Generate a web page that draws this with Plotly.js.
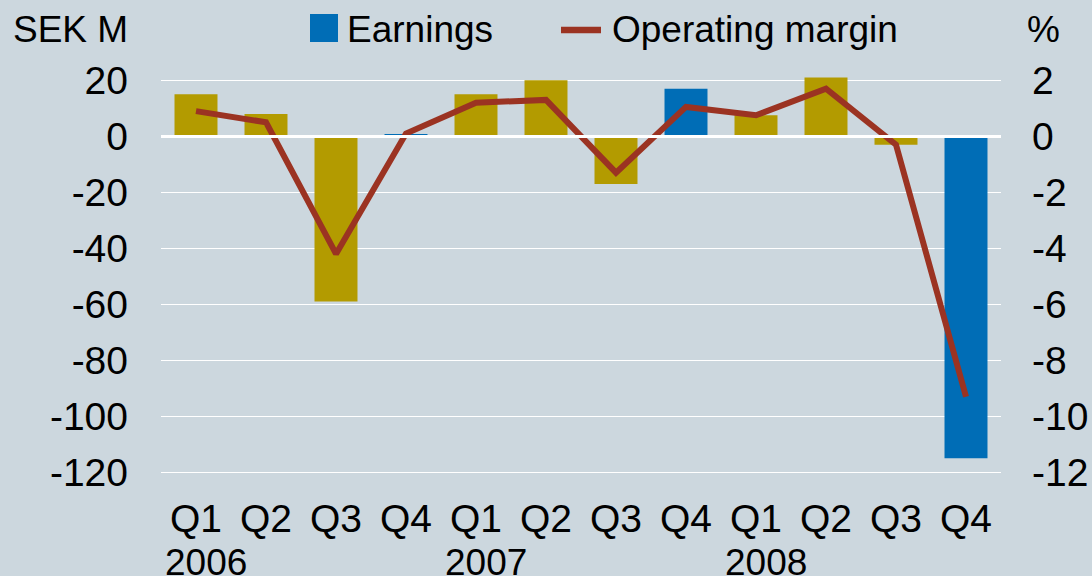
<!DOCTYPE html>
<html>
<head>
<meta charset="utf-8">
<script src="https://cdn.plot.ly/plotly-3.0.1.min.js"></script>
<style>
  html, body { margin: 0; padding: 0; background: #ccd7de; }
  #chart { width: 1092px; height: 576px; }
</style>
</head>
<body>
<div id="chart"></div>
<script>
// ---- data ----
const periods = ['Q1 2006','Q2 2006','Q3 2006','Q4 2006',
                 'Q1 2007','Q2 2007','Q3 2007','Q4 2007',
                 'Q1 2008','Q2 2008','Q3 2008','Q4 2008'];
const quarterLabels = ['Q1','Q2','Q3','Q4','Q1','Q2','Q3','Q4','Q1','Q2','Q3','Q4'];
const yearLabels = ['2006','2007','2008'];
const yearStartPeriods = ['Q1 2006','Q1 2007','Q1 2008'];
const earnings = [15, 8, -59, 0.8, 15, 20, -17, 17, 7.5, 21, -3, -115];   // SEK M
const operatingMargin = [0.9, 0.5, -4.2, 0.1, 1.2, 1.3, -1.3, 1.05, 0.75, 1.7, -0.3, -9.3]; // %
const leftTicks = [20, 0, -20, -40, -60, -80, -100, -120];
const leftTickLabels = ['20', '0', '-20', '-40', '-60', '-80', '-100', '-120'];
const rightTicks = [2, 0, -2, -4, -6, -8, -10, -12];
const rightTickLabels = ['2', '0', '-2', '-4', '-6', '-8', '-10', '-12'];

// ---- styles ----
const BG = '#ccd7de';
const GOLD = '#b39b00';
const BLUE = '#006db6';
const RED = '#9b3322';
const FONT = 'Liberation Sans, Arial, Helvetica, sans-serif';

const isQ4 = quarterLabels.map(q => q === 'Q4');

const goldBars = {
  type: 'bar', x: periods,
  y: earnings.map((v, i) => isQ4[i] ? null : v),
  marker: { color: GOLD }, showlegend: false, hoverinfo: 'x+y', name: 'Earnings'
};
const blueBars = {
  type: 'bar', x: periods,
  y: earnings.map((v, i) => isQ4[i] ? v : null),
  marker: { color: BLUE }, showlegend: false, hoverinfo: 'x+y', name: 'Earnings'
};
const marginLine = {
  type: 'scatter', mode: 'lines', x: periods, y: operatingMargin, yaxis: 'y2',
  line: { color: RED, width: 6 }, showlegend: false, name: 'Operating margin'
};

const yearAnnotations = yearLabels.map((t, i) => ({
  text: t, xref: 'x', x: yearStartPeriods[i], xanchor: 'left', xshift: -33,
  yref: 'paper', y: 0, yanchor: 'top', yshift: -62, showarrow: false,
  font: { family: FONT, size: 37, color: '#000' }
}));

const layout = {
  width: 1092, height: 576,
  paper_bgcolor: BG, plot_bgcolor: BG,
  margin: { l: 161, r: 91, t: 74, b: 98, pad: 0 },
  barmode: 'overlay', bargap: 0.386,
  showlegend: false,
  font: { family: FONT, color: '#000' },
  xaxis: {
    type: 'category', tickmode: 'array', tickvals: periods, ticktext: quarterLabels,
    tickfont: { family: FONT, size: 39, color: '#000' },
    showgrid: false, zeroline: false, showline: false, ticks: '',
    ticklabelstandoff: 14, automargin: false, fixedrange: true
  },
  yaxis: {
    range: [-122.04, 22.25], tickmode: 'array', tickvals: leftTicks, ticktext: leftTickLabels,
    tickfont: { family: FONT, size: 39, color: '#000' },
    showgrid: true, gridcolor: '#ffffff', gridwidth: 1,
    zeroline: true, zerolinecolor: '#ffffff', zerolinewidth: 2.5, zerolinelayer: 'above traces',
    showline: false, ticks: '', ticklabelstandoff: 32, automargin: false, fixedrange: true
  },
  yaxis2: {
    overlaying: 'y', side: 'right', range: [-12.204, 2.225], tickmode: 'array',
    tickvals: rightTicks, ticktext: rightTickLabels,
    tickfont: { family: FONT, size: 39, color: '#000' },
    showgrid: false, zeroline: false, showline: false, ticks: '',
    ticklabelstandoff: 30, automargin: false, fixedrange: true
  },
  shapes: [
    // legend swatch: Earnings (blue square)
    { type: 'rect', xref: 'paper', yref: 'paper', xsizemode: 'pixel', ysizemode: 'pixel',
      xanchor: 0, yanchor: 1, x0: 149, x1: 177, y0: 32, y1: 60,
      fillcolor: BLUE, line: { width: 0 } },
    // legend swatch: Operating margin (red line)
    { type: 'line', xref: 'paper', yref: 'paper', xsizemode: 'pixel', ysizemode: 'pixel',
      xanchor: 0, yanchor: 1, x0: 400, x1: 440, y0: 44, y1: 44,
      line: { color: RED, width: 6.5 } }
  ],
  annotations: [
    { text: 'SEK M', xref: 'paper', x: 0, xanchor: 'right', xshift: -31,
      yref: 'paper', y: 1, yanchor: 'middle', yshift: 45, showarrow: false,
      font: { family: FONT, size: 37, color: '#000' } },
    { text: '%', xref: 'paper', x: 1, xanchor: 'left', xshift: 24,
      yref: 'paper', y: 1, yanchor: 'middle', yshift: 45, showarrow: false,
      font: { family: FONT, size: 37, color: '#000' } },
    { text: 'Earnings', xref: 'paper', x: 0, xanchor: 'left', xshift: 184,
      yref: 'paper', y: 1, yanchor: 'middle', yshift: 45, showarrow: false,
      font: { family: FONT, size: 37, color: '#000' } },
    { text: 'Operating margin', xref: 'paper', x: 0, xanchor: 'left', xshift: 449,
      yref: 'paper', y: 1, yanchor: 'middle', yshift: 45, showarrow: false,
      font: { family: FONT, size: 37, color: '#000' } }
  ].concat(yearAnnotations)
};

Plotly.newPlot('chart', [goldBars, blueBars, marginLine], layout,
  { displayModeBar: false, staticPlot: true });
</script>
</body>
</html>
